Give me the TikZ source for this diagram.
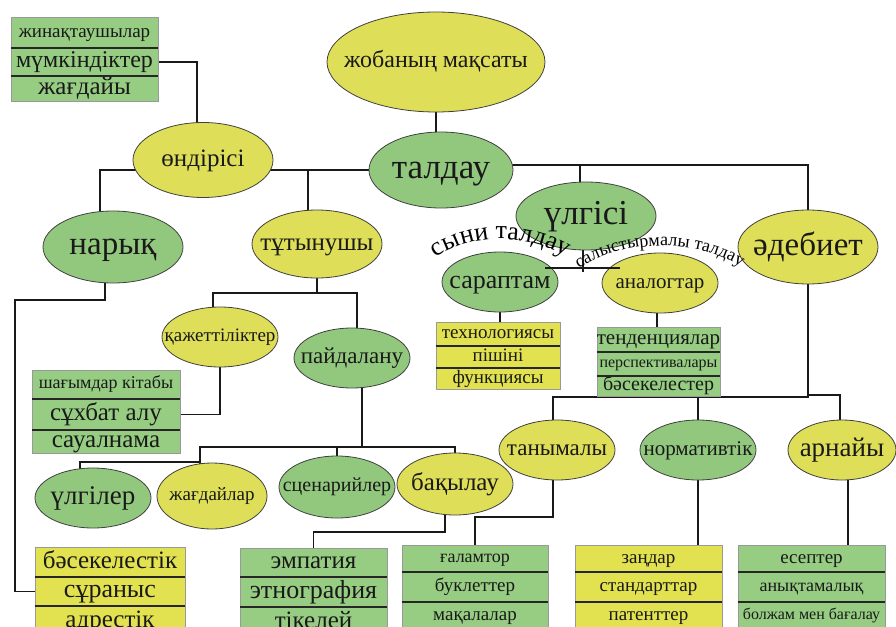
\documentclass[tikz,border=0pt]{standalone}
\usepackage{fontspec}
\setmainfont{Liberation Serif}
\usetikzlibrary{positioning,shapes.geometric,decorations.text,backgrounds}
\definecolor{ovalyellow}{RGB}{222,222,88}
\definecolor{ovalgreen}{RGB}{146,200,126}
\definecolor{boxyellow}{RGB}{226,226,80}
\definecolor{boxgreen}{RGB}{150,205,130}

\begin{document}
\begin{tikzpicture}[x=1pt,y=-1pt,
  fs/.style={font=\fontsize{#1}{#1}\selectfont},
  fixw/.style={execute at begin node=\hbox to 0pt\bgroup\hss\vrule width 0pt height 0.7em depth 0.22em\relax,
    execute at end node=\hss\egroup},
  oval/.style={ellipse,draw=black!75,line width=0.8pt,inner sep=0pt,text=black!90,fixw},
  yel/.style={oval,fill=ovalyellow},
  grn/.style={oval,fill=ovalgreen},
  cell/.style={rectangle,draw=black!40,line width=0.5pt,inner sep=0pt,minimum width=147pt,text=black!90,fixw},
  ycell/.style={cell,fill=boxyellow},
  gcell/.style={cell,fill=boxgreen},
  link/.style={line width=1.8pt,black!90},
  rowsep/.style={line width=1.8pt,black!85}]
  \useasboundingbox (0,0) rectangle (896,626);
  \clip (0,0) rectangle (896,626);

  % ovals
  \node[yel,fs=24,minimum width=218pt,minimum height=100pt] (jobanyn) at (436,62) {жобаның мақсаты};
  \node[grn,fs=35,minimum width=144pt,minimum height=76pt] (talday) at (441,170) {талдау};
  \node[yel,fs=25,minimum width=140pt,minimum height=75pt] (ondirisi) at (203,160) {өндірісі};
  \node[grn,fs=33,minimum width=140pt,minimum height=72pt] (naryk) at (113,247) {нарық};
  \node[yel,fs=25,minimum width=130pt,minimum height=68pt] (tutynushy) at (317,244) {тұтынушы};
  \node[grn,fs=35,minimum width=140pt,minimum height=68pt] (ulgisi) at (586,216) {үлгісі};
  \node[yel,fs=33,minimum width=140pt,minimum height=74pt] (adebiet) at (808,247) {әдебиет};
  \node[grn,fs=26,minimum width=116pt,minimum height=60pt] (saraptam) at (500,282) {сараптам};
  \node[yel,fs=21,minimum width=116pt,minimum height=60pt] (analogtar) at (660,283) {аналогтар};
  \node[yel,fs=19,minimum width=116pt,minimum height=60pt] (kazhet) at (220,337) {қажеттіліктер};
  \node[grn,fs=23,minimum width=116pt,minimum height=60pt] (paydalanu) at (352,358) {пайдалану};
  \node[grn,fs=27,minimum width=116pt,minimum height=60pt] (ulgiler) at (93,498) {үлгілер};
  \node[yel,fs=19,minimum width=110pt,minimum height=66pt] (zhagdaylar) at (212,496) {жағдайлар};
  \node[grn,fs=20,minimum width=116pt,minimum height=62pt] (scenariy) at (337,487) {сценарийлер};
  \node[yel,fs=25,minimum width=116pt,minimum height=62pt] (bakylau) at (455,484) {бақылау};
  \node[yel,fs=23,minimum width=116pt,minimum height=60pt] (tanymaly) at (557,450) {танымалы};
  \node[grn,fs=21,minimum width=116pt,minimum height=60pt] (normativ) at (698,450) {нормативтік};
  \node[yel,fs=27,minimum width=108pt,minimum height=60pt] (arnayy) at (842,450) {арнайы};

  % boxes
  \node[gcell,fs=19,minimum height=31pt] (nak1) at (84.5,32.5) {жинақтаушылар};
  \node[gcell,fs=24,minimum height=27pt,below=0pt of nak1] (nak2) {мүмкіндіктер};
  \node[gcell,fs=25,minimum height=25pt,below=0pt of nak2] (nak3) {жағдайы};

  \node[ycell,fs=19,minimum width=124pt,minimum height=24pt] (tech1) at (498,334) {технологиясы};
  \node[ycell,fs=19,minimum width=124pt,minimum height=21pt,below=0pt of tech1] (tech2) {пішіні};
  \node[ycell,fs=19,minimum width=124pt,minimum height=21pt,below=0pt of tech2] (tech3) {функциясы};

  \node[gcell,fs=21,minimum width=123pt,minimum height=25pt] (tend1) at (658.5,339.5) {тенденциялар};
  \node[gcell,fs=16,minimum width=123pt,minimum height=23pt,below=0pt of tend1] (tend2) {перспективалары};
  \node[gcell,fs=20,minimum width=123pt,minimum height=20pt,below=0pt of tend2] (tend3) {бәсекелестер};

  \node[gcell,fs=18,minimum width=148pt,minimum height=29pt] (shag1) at (106,384.5) {шағымдар кітабы};
  \node[gcell,fs=25,minimum width=148pt,minimum height=30pt,below=0pt of shag1] (shag2) {сұхбат алу};
  \node[gcell,fs=25,minimum width=148pt,minimum height=23pt,below=0pt of shag2] (shag3) {сауалнама};

  \node[ycell,fs=25,minimum width=150pt,minimum height=30pt] (bas1) at (110,562) {бәсекелестік};
  \node[ycell,fs=26,minimum width=150pt,minimum height=28pt,below=0pt of bas1] (bas2) {сұраныс};
  \node[ycell,fs=25,minimum width=150pt,minimum height=30pt,below=0pt of bas2] (bas3) {адрестік};

  \node[gcell,fs=25,minimum height=29pt] (emp1) at (313.5,562.5) {эмпатия};
  \node[gcell,fs=26,minimum height=29pt,below=0pt of emp1] (emp2) {этнография};
  \node[gcell,fs=25,minimum height=30pt,below=0pt of emp2] (emp3) {тікелей};

  \node[gcell,fs=18,minimum width=146pt,minimum height=27pt] (gal1) at (475,558.5) {ғаламтор};
  \node[gcell,fs=19,minimum width=146pt,minimum height=29pt,below=0pt of gal1] (gal2) {буклеттер};
  \node[gcell,fs=19,minimum width=146pt,minimum height=28pt,below=0pt of gal2] (gal3) {мақалалар};

  \node[ycell,fs=19,minimum height=27pt] (zan1) at (648.5,558.5) {заңдар};
  \node[ycell,fs=19,minimum height=29pt,below=0pt of zan1] (zan2) {стандарттар};
  \node[ycell,fs=19,minimum height=28pt,below=0pt of zan2] (zan3) {патенттер};

  \node[gcell,fs=19,minimum height=27pt] (esep1) at (811.5,558.5) {есептер};
  \node[gcell,fs=18,minimum height=29pt,below=0pt of esep1] (esep2) {анықтамалық};
  \node[gcell,fs=16,minimum height=28pt,below=0pt of esep2] (esep3) {болжам мен бағалау};

  \foreach \r in {nak1,nak2,tech1,tech2,tend1,tend2,shag1,shag2,bas1,bas2,emp1,emp2,gal1,gal2,zan1,zan2,esep1,esep2}
    \draw[rowsep] (\r.south west) -- (\r.south east);

  % forks
  \coordinate (nbend) at (15,300);
  \coordinate (tfork) at (317,293);
  \coordinate (lfork) at (200,447);
  \coordinate (ufork) at (200,462);
  \coordinate (bfork) at (445,532);
  \coordinate (tfork2) at (553,517);
  \coordinate (dfork) at (808,397);

  \begin{scope}[on background layer]
    \draw[link] (jobanyn) -- (jobanyn |- talday);
    \draw[link] (talday) -| ([xshift=-13pt]naryk.center);
    \draw[link] (nak2) -| ([xshift=-6pt]ondirisi.center);
    \draw[link] ([xshift=-9pt]tutynushy.center) |- (talday);
    \draw[link] ([yshift=5pt]talday.center) -| (adebiet);
    \draw[link] ([xshift=-6pt]ulgisi.center) |- ([yshift=5pt]talday.center);
    \draw[link] ([xshift=-8pt]naryk.center) |- (nbend) |- (bas2);
    \draw[link] (tutynushy) -- (tfork);
    \draw[link] ([xshift=-7pt]kazhet.center) |- (tfork) -| ([xshift=5pt]paydalanu.center);
    \draw[link] (kazhet) |- (shag2);
    \draw[link] ([xshift=10pt]paydalanu.center) |- (lfork) -- (lfork |- zhagdaylar);
    \draw[link] (lfork) -| (bakylau);
    \draw[link] (ufork) -| ([xshift=-13pt]ulgiler.center);
    \draw[link] (scenariy) -- (scenariy |- lfork);
    \draw[link] ([xshift=-10pt]bakylau.center) |- (bfork) -| (emp1);
    \draw[link] ([xshift=-4pt]tanymaly.center) |- (dfork) -- (adebiet);
    \draw[link] ([xshift=-4pt]tanymaly.center) |- (tfork2) -| (gal1);
    \draw[link] (normativ) -- (normativ |- dfork);
    \draw[link] (normativ) -- (normativ |- zan1);
    \draw[link] ([yshift=2pt]dfork) -| ([xshift=-2pt]arnayy.center);
    \draw[link] ([xshift=6pt]arnayy.center) -- ([xshift=6pt]arnayy.center |- esep1);
    \draw[link] (saraptam) -- (saraptam |- tech1);
    \draw[link] ([xshift=-3pt]analogtar.center) -- ([xshift=-3pt]analogtar.center |- tend1);
  \end{scope}

  \draw[link] ([xshift=-3pt]ulgisi.south) -- ++(0,22);
  \draw[link,line width=2.6pt] ([xshift=45pt,yshift=14pt]saraptam.center) -- ([xshift=-40pt,yshift=15pt]analogtar.center);

  % arc labels
  \path[decorate,decoration={text along path,text align=center,
    text={|\fontsize{26}{26}\selectfont|сыни талдау}}]
    (418,274) .. controls (458,228) and (537,228) .. (586,270);
  \path[decorate,decoration={text along path,text align=center,
    text={|\fontsize{18}{18}\selectfont|салыстырмалы талдау}}]
    (568,276) .. controls (618,236) and (702,236) .. (752,274);
\end{tikzpicture}
\end{document}
